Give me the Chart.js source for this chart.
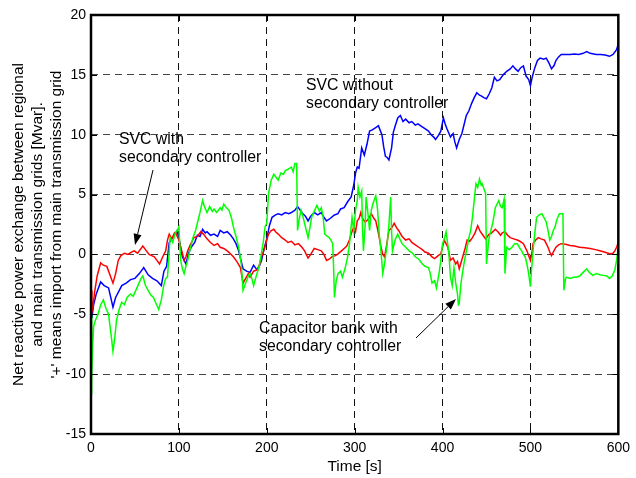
<!DOCTYPE html>
<html>
<head>
<meta charset="utf-8">
<script src="https://cdn.jsdelivr.net/npm/chart.js@4/dist/chart.umd.min.js"></script>
<style>
  html, body { margin: 0; padding: 0; background: #fff; }
  canvas { display: block; }
</style>
</head>
<body>
<canvas id="chart" width="636" height="478"></canvas>
<script>
// values (time in s, reactive power in Mvar)
const blueTime = [0, 1, 3, 6, 11, 15, 20, 25, 28, 35, 40, 45, 50, 55, 60, 65, 70, 75, 80, 83, 86, 89, 93, 98, 101, 104, 108, 111, 114, 118, 121, 124, 127, 130, 132, 136, 140, 144, 147, 151, 155, 159, 162, 165, 168, 171, 173, 177, 181, 183, 185, 187, 189, 192, 194, 197, 200, 203, 206, 210, 213, 217, 221, 225, 228, 232, 235, 238, 241, 244, 247, 250, 254, 258, 262, 265, 268, 272, 277, 281, 284, 288, 292, 296, 299, 301, 303, 305, 308, 311, 314, 317, 320, 324, 327, 331, 333, 335, 337, 339, 342, 344, 346, 349, 352, 355, 358, 362, 365, 369, 372, 376, 380, 384, 387, 390, 392, 395, 398, 401, 403, 405, 409, 412, 414, 416, 419, 422, 425, 427, 430, 433, 436, 439, 442, 444, 447, 450, 453, 456, 459, 462, 465, 469, 473, 477, 480, 483, 486, 489, 492, 495, 498, 500, 502, 505, 508, 511, 515, 518, 521, 524, 527, 529, 532, 535, 540, 545, 550, 555, 560, 564, 568, 572, 575, 580, 585, 590, 594, 598, 600];
const blueValues = [-4.0, -5.3, -4.2, -3.3, -2.3, -2.6, -2.8, -4.4, -3.6, -2.6, -2.4, -2.1, -2.0, -1.6, -1.1, -1.7, -2.0, -2.2, -2.6, -1.4, -1.0, 1.0, 1.4, 2.0, 1.0, -0.2, -0.8, 0.1, 0.6, 1.0, 1.6, 1.5, 2.1, 1.8, 1.9, 1.6, 1.7, 1.5, 2.0, 1.8, 1.9, 1.6, 1.3, 0.9, 0.3, -0.6, -1.2, -1.4, -1.5, -1.2, -0.9, -1.1, -1.3, -0.9, -0.5, 0.5, 1.3, 2.4, 3.1, 3.3, 3.4, 3.3, 3.5, 3.4, 3.5, 3.7, 4.0, 3.7, 3.4, 3.2, 2.8, 3.2, 3.5, 3.3, 3.5, 3.1, 2.8, 3.0, 3.3, 3.4, 3.8, 3.9, 4.4, 4.8, 5.8, 6.8, 7.3, 7.2, 8.9, 8.3, 9.2, 10.3, 10.4, 10.6, 10.75, 10.0, 9.0, 8.2, 8.1, 7.9, 8.9, 10.2, 10.7, 11.4, 11.6, 11.1, 11.3, 11.0, 11.1, 10.8, 10.9, 10.7, 10.5, 10.3, 10.0, 9.8, 9.6, 9.9, 10.3, 11.4, 10.9, 10.5, 9.8, 10.1, 9.4, 8.9, 9.6, 10.1, 11.0, 11.6, 12.0, 12.6, 13.1, 13.5, 13.3, 13.25, 13.1, 13.0, 13.4, 13.9, 14.8, 14.5, 14.6, 15.0, 15.3, 15.5, 15.75, 15.5, 15.3, 15.6, 15.75, 14.9, 14.6, 14.1, 14.8, 15.6, 16.2, 16.4, 16.3, 16.4, 16.0, 15.5, 15.8, 16.2, 16.5, 16.7, 16.7, 16.7, 16.75, 16.7, 16.8, 16.95, 16.8, 16.75, 16.7, 16.7, 16.65, 16.55, 16.7, 17.1, 17.6];

const redTime = [0, 1, 2, 4, 7, 11, 14, 18, 22, 25, 28, 31, 34, 38, 42, 46, 49, 53, 56, 59, 62, 66, 69, 72, 75, 78, 81, 85, 87, 89, 92, 95, 97, 100, 102, 104, 106, 108, 110, 113, 117, 121, 125, 128, 132, 136, 140, 144, 147, 151, 155, 158, 162, 166, 170, 173, 176, 179, 181, 185, 189, 192, 194, 197, 200, 202, 205, 208, 210, 213, 217, 221, 224, 228, 232, 236, 240, 243, 247, 250, 254, 258, 262, 265, 268, 271, 274, 278, 281, 285, 288, 291, 294, 296, 299, 301, 303, 305, 307, 309, 312, 315, 319, 322, 324, 327, 330, 332, 334, 336, 339, 342, 345, 348, 350, 354, 358, 362, 365, 369, 373, 377, 380, 384, 388, 391, 395, 398, 402, 404, 406, 409, 412, 415, 417, 419, 421, 423, 426, 428, 431, 434, 437, 440, 443, 446, 449, 451, 453, 456, 460, 463, 466, 468, 471, 474, 477, 481, 485, 488, 492, 494, 496, 498, 500, 502, 503, 506, 509, 512, 516, 518, 520, 522, 524, 526, 529, 532, 535, 540, 545, 550, 556, 562, 568, 574, 579, 584, 590, 594, 596, 598, 600];
const redValues = [-3.0, -4.8, -4.5, -3.2, -1.8, -0.7, -0.9, -1.0, -1.8, -2.4, -1.6, -0.5, -0.1, 0.1, 0.0, 0.2, 0.3, 0.1, 0.4, 0.7, 0.4, 0.0, -0.1, -0.2, -0.5, -0.8, -0.3, 0.3, 1.2, 1.7, 1.3, 1.8, 1.7, 1.2, 0.6, 0.1, -0.5, -0.2, 0.3, 0.8, 1.4, 1.5, 1.9, 1.7, 1.3, 1.0, 0.75, 0.9, 0.6, 0.5, 0.3, 0.1, -0.2, -0.6, -1.1, -2.4, -2.0, -1.6, -1.9, -1.4, -1.3, -0.8, -0.2, 0.4, 1.2, 1.7, 2.0, 2.1, 1.9, 1.7, 1.4, 1.2, 1.0, 1.1, 0.8, 0.9, 0.6, 0.3, -0.3, 0.0, 0.5, 0.4, 0.3, 0.0, -0.5, -0.4, -0.2, -0.1, 0.05, 0.3, 0.5, 0.7, 1.2, 1.7, 2.3, 1.9, 2.8, 3.0, 3.5, 3.0, 2.7, 2.9, 3.4, 3.0, 2.8, 1.8, 0.6, 0.0, -0.2, 0.6, 2.0, 2.2, 2.6, 2.2, 2.0, 1.5, 1.2, 1.3, 1.0, 0.8, 0.6, 0.4, 0.2, 0.1, -0.2, -0.35, -0.1, 0.05, 1.2, 0.9, 0.6, -0.5, -0.3, -0.8, -0.6, -1.2, -0.7, -0.2, 0.6, 1.2, 1.1, 1.4, 1.8, 2.4, 1.9, 1.6, 1.3, 1.5, 1.7, 1.8, 2.1, 1.9, 1.6, 1.8, 1.9, 1.6, 1.4, 1.3, 1.2, 1.1, 0.9, 0.6, 0.3, -0.1, -0.5, 0.3, 0.9, 1.2, 1.4, 1.3, 1.2, 0.9, 0.6, 0.2, -0.1, 0.2, 0.6, 0.8, 0.9, 0.85, 0.75, 0.7, 0.6, 0.55, 0.5, 0.4, 0.3, 0.2, 0.05, 0.1, 0.3, 0.6, 1.0];

const greenTime = [0, 0.5, 1, 2, 3, 5, 8, 11, 14, 17, 20, 23, 25, 27, 29, 32, 35, 38, 41, 45, 48, 51, 54, 57, 59, 62, 65, 68, 71, 74, 77, 80, 83, 85, 87, 89, 90, 93, 96, 98, 100, 102, 104, 106, 108, 110, 113, 116, 119, 121, 124, 127, 129, 132, 135, 138, 140, 143, 147, 149, 151, 154, 157, 160, 162, 165, 168, 171, 173, 175, 177, 179, 181, 183, 185, 188, 191, 194, 196, 198, 200, 202, 205, 208, 211, 213, 216, 219, 221, 224, 228, 230, 232, 234, 235, 237, 239, 241, 243, 245, 247, 249, 251, 254, 257, 260, 262, 264, 266, 269, 271, 273, 275, 276, 277, 279, 281, 284, 286, 289, 292, 294, 297, 299, 301, 303, 304, 306, 308, 309, 310, 312, 313, 315, 317, 319, 321, 324, 326, 328, 330, 332, 334, 337, 339, 341, 342, 343, 346, 349, 352, 354, 358, 362, 366, 369, 373, 377, 380, 384, 386, 388, 391, 393, 396, 398, 400, 402, 404, 406, 407, 409, 411, 413, 415, 417, 418, 419, 421, 423, 425, 428, 430, 432, 434, 436, 438, 440, 442, 444, 445, 447, 449, 450, 452, 453, 455, 457, 459, 460, 462, 464, 466, 468, 470, 471, 473, 476, 479, 482, 485, 488, 490, 492, 494, 496, 498, 500, 501, 503, 505, 507, 510, 513, 516, 518, 520, 522, 524, 526, 528, 530, 533, 535, 537, 538, 540, 541, 545, 549, 552, 556, 560, 564, 567, 571, 575, 579, 583, 587, 590, 593, 596, 598, 600];
const greenValues = [-5.0, -11.7, -10.5, -7.5, -6.0, -5.5, -5.0, -4.2, -3.8, -4.5, -5.0, -6.8, -8.1, -7.0, -5.5, -4.6, -4.0, -4.2, -3.6, -3.3, -3.5, -3.0, -2.5, -2.0, -1.8, -2.6, -3.0, -3.4, -3.6, -4.1, -4.6, -3.8, -2.5, -2.0, -1.9, 0.2, 1.4, 1.0, 1.8, 2.0, 2.3, -0.5, -1.2, -1.6, -1.0, -0.5, 0.5, 1.4, 2.0, 2.6, 3.5, 4.5, 4.0, 3.5, 4.0, 3.6, 3.8, 3.5, 3.9, 3.7, 4.2, 3.9, 3.7, 3.0, 2.3, 1.5, 0.6, -0.8, -3.0, -2.6, -2.2, -1.8, -1.6, -2.0, -2.6, -1.8, -1.1, 0.1, 1.0, 2.3, 2.6, 5.1, 6.2, 6.7, 6.4, 6.2, 6.8, 6.7, 7.0, 7.1, 7.3, 6.9, 7.6, 7.6, 2.0, 3.0, 3.7, 3.2, 2.6, 2.0, 1.4, 2.2, 3.1, 3.6, 4.1, 3.6, 3.9, 3.2, 1.7, 1.5, 1.4, 1.2, 0.9, -1.0, -3.6, -2.2, -1.6, -1.4, -1.9, -1.2, -0.2, 0.8, 3.1, 2.0, 3.7, 4.5, 5.6, 4.8, 5.3, 2.0, 0.3, 2.5, 4.8, 3.5, 2.0, 3.7, 4.3, 4.9, 3.8, 1.7, 0.2, -1.6, -0.8, 0.9, 2.5, 4.8, 2.0, 0.3, 1.2, 1.7, 1.2, 0.9, 0.6, 0.3, 0.1, -0.2, -0.4, -0.8, -1.0, -1.1, -1.6, -2.4, -2.2, -2.8, -1.6, -0.5, 0.9, 1.3, 1.9, 0.8, 0.3, -1.9, -2.6, -1.1, -2.4, -3.3, -4.2, -4.1, -2.4, -1.4, -0.5, 0.6, 1.4, 2.0, 3.1, 4.5, 5.9, 5.6, 6.3, 5.8, 5.9, 5.5, 5.1, -0.8, 0.8, 1.4, 2.0, 2.6, 3.4, 3.9, 4.2, 4.5, 4.0, 3.9, 4.6, -1.6, 0.6, 0.4, 0.6, 0.9, 0.9, 0.5, 0.3, 0.0, -0.2, -0.8, -1.6, -2.7, -1.5, 0.3, 1.8, 3.1, 3.3, 3.4, 3.0, 2.7, 2.0, 1.2, 1.5, 2.0, 2.3, 2.9, 3.4, 3.4, 3.4, -3.0, -2.0, -1.9, -2.0, -1.9, -1.9, -1.8, -1.5, -1.2, -1.5, -1.75, -1.6, -1.7, -1.75, -1.8, -2.0, -1.8, -1.3, -0.5, 0.6];

const xTicks = [0, 100, 200, 300, 400, 500, 600];
const yTicks = [-15, -10, -5, 0, 5, 10, 15, 20];

const xTitle = "Time [s]";
const yTitleLines = [
  "Net reactive power exchange between regional",
  "and main transmission grids [Mvar].",
  "'+' means import from main transmission grid",
];

const FONT = "Arial, 'Liberation Sans', sans-serif";

const toPoints = (ts, vs) => ts.map((t, i) => ({ x: t, y: vs[i] }));

// frame, inward tick marks, axis titles, annotations with arrows
const overlay = {
  id: "overlay",
  afterDraw(chart) {
    const { ctx, chartArea: a, scales } = chart;
    const sx = scales.x, sy = scales.y;
    ctx.save();

    ctx.strokeStyle = "#000";
    ctx.lineWidth = 1;
    ctx.beginPath();
    yTicks.forEach((v) => {
      const py = Math.round(sy.getPixelForValue(v)) + 0.5;
      ctx.moveTo(a.left, py); ctx.lineTo(a.left + 6, py);
      ctx.moveTo(a.right, py); ctx.lineTo(a.right - 6, py);
    });
    xTicks.forEach((v) => {
      const px = Math.round(sx.getPixelForValue(v)) + 0.5;
      ctx.moveTo(px, a.bottom); ctx.lineTo(px, a.bottom - 6);
      ctx.moveTo(px, a.top); ctx.lineTo(px, a.top + 6);
    });
    ctx.stroke();

    ctx.lineWidth = 2.5;
    ctx.strokeRect(a.left, a.top, a.right - a.left, a.bottom - a.top);

    ctx.fillStyle = "#000";
    ctx.font = "15.5px " + FONT;
    ctx.textAlign = "center";
    ctx.textBaseline = "middle";
    ctx.fillText(xTitle, (a.left + a.right) / 2, 467);

    const midY = (a.top + a.bottom) / 2;
    [19, 38, 57].forEach((cx, i) => {
      ctx.save();
      ctx.translate(cx, midY);
      ctx.rotate(-Math.PI / 2);
      ctx.fillText(yTitleLines[i], 0, 0);
      ctx.restore();
    });

    ctx.font = "15.8px " + FONT;
    ctx.textAlign = "left";
    ctx.textBaseline = "alphabetic";
    ctx.fillText("SVC with", 119, 144);
    ctx.fillText("secondary controller", 119, 162);
    ctx.fillText("SVC without", 306, 90);
    ctx.fillText("secondary controller", 306, 108);
    ctx.fillText("Capacitor bank with", 259, 333);
    ctx.fillText("secondary controller", 259, 351);

    const arrow = (x1, y1, x2, y2) => {
      const ang = Math.atan2(y2 - y1, x2 - x1);
      const len = 11, half = 4;
      const bx = x2 - len * Math.cos(ang), by = y2 - len * Math.sin(ang);
      ctx.lineWidth = 1;
      ctx.beginPath();
      ctx.moveTo(x1, y1);
      ctx.lineTo(bx, by);
      ctx.stroke();
      ctx.beginPath();
      ctx.moveTo(x2, y2);
      ctx.lineTo(bx + half * Math.sin(ang), by - half * Math.cos(ang));
      ctx.lineTo(bx - half * Math.sin(ang), by + half * Math.cos(ang));
      ctx.closePath();
      ctx.fill();
    };
    arrow(153, 170, 135, 245);
    arrow(416, 338, 456, 299);

    ctx.restore();
  },
};

const ctx = document.getElementById("chart").getContext("2d");
new Chart(ctx, {
  type: "line",
  data: {
    datasets: [
      {
        label: "Capacitor bank with secondary controller",
        data: toPoints(greenTime, greenValues),
        borderColor: "#00ff00",
        borderWidth: 1.5,
      },
      {
        label: "SVC with secondary controller",
        data: toPoints(redTime, redValues),
        borderColor: "#ff0000",
        borderWidth: 1.5,
      },
      {
        label: "SVC without secondary controller",
        data: toPoints(blueTime, blueValues),
        borderColor: "#0000ff",
        borderWidth: 1.5,
      },
    ],
  },
  options: {
    responsive: false,
    animation: false,
    elements: { point: { radius: 0 }, line: { tension: 0 } },
    layout: { padding: { left: 0, top: 15, right: 14, bottom: 0 } },
    plugins: { legend: { display: false }, tooltip: { enabled: false } },
    scales: {
      x: {
        type: "linear",
        min: 0,
        max: 600,
        afterFit: (s) => { s.height = 44; },
        afterBuildTicks: (s) => { s.ticks = xTicks.map((v) => ({ value: v })); },
        ticks: { color: "#000", font: { size: 14, family: FONT }, padding: 6, maxRotation: 0 },
        grid: { color: "#111", lineWidth: 1, drawTicks: false },
        border: { display: false, dash: [7, 5] },
      },
      y: {
        min: -15,
        max: 20,
        afterFit: (s) => { s.width = 91; },
        afterBuildTicks: (s) => { s.ticks = yTicks.map((v) => ({ value: v })); },
        ticks: { color: "#000", font: { size: 14, family: FONT }, padding: 5 },
        grid: { color: "#444", lineWidth: 1, drawTicks: false },
        border: { display: false, dash: [7, 5] },
      },
    },
  },
  plugins: [overlay],
});
</script>
</body>
</html>
